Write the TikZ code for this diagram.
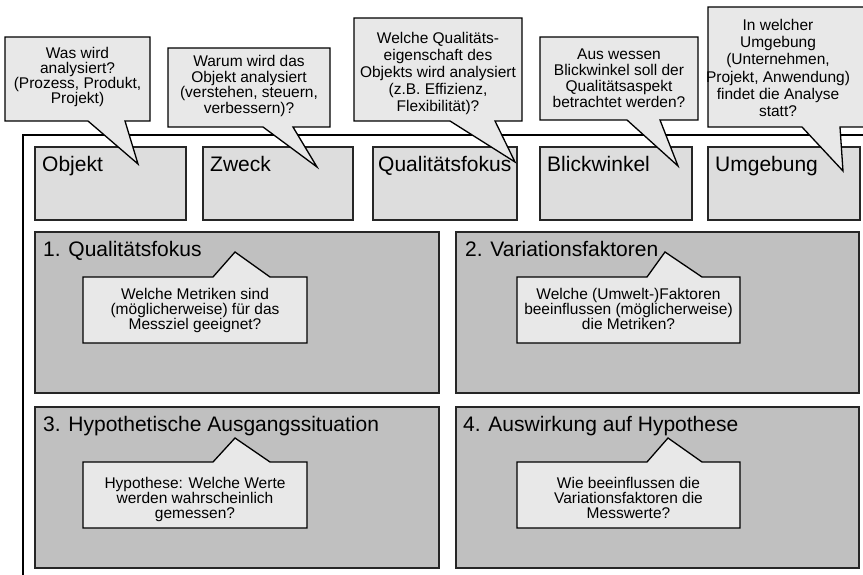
\documentclass[tikz,border=0pt]{standalone}
\usepackage{fontspec}
\setmainfont{Liberation Sans}
\definecolor{boxA}{HTML}{DDDDDD}
\definecolor{boxB}{HTML}{C0C0C0}
\definecolor{callc}{HTML}{E8E8E8}
\begin{document}
\begin{tikzpicture}[x=1pt,y=-1pt,
  topbox/.style={draw=black!85, line width=1.4pt, fill=boxA},
  bigbox/.style={draw=black!85, line width=1.4pt, fill=boxB},
  callshape/.style={draw=black, line width=1.3pt, fill=callc, line join=miter},
  calltext/.style={align=center, font=\fontsize{15.5}{#1}\selectfont, inner sep=0pt},
  calltext/.default=15,
  head/.style={anchor=base west, font=\fontsize{21}{24}\selectfont, inner sep=0pt}]
\useasboundingbox (0,0) rectangle (863,575);
\begin{scope}
\clip (0,0) rectangle (863,575);
% frame
\draw[line width=2.4pt] (23,578) -- (23,135) -- (870,135);
% top boxes
\draw[topbox] (35,147) rectangle (186,220);
\draw[topbox] (203,147) rectangle (353,220);
\draw[topbox] (373,147) rectangle (517,220);
\draw[topbox] (540,147) rectangle (692,220);
\draw[topbox] (708,147) rectangle (860,220);
\node[head] (hObj) at (42,172) {Objekt};
\node[head] (hZw) at (210,172) {Zweck};
\node[head] (hQu) at (378,172) {Qualitätsfokus};
\node[head] (hBl) at (547,172) {Blickwinkel};
\node[head] (hUm) at (715,172) {Umgebung};
% big boxes
\draw[bigbox] (35,232) rectangle (439,393);
\draw[bigbox] (456,232) rectangle (859,393);
\draw[bigbox] (35,407) rectangle (439,568);
\draw[bigbox] (456,407) rectangle (859,568);
\node[head] (h1) at (43,256) {1. Qualitätsfokus};
\node[head] (h2) at (465,256) {2. Variationsfaktoren};
\node[head] (h3) at (43,431) {3. Hypothetische Ausgangssituation};
\node[head] (h4) at (463,431) {4. Auswirkung auf Hypothese};
% top callouts
\draw[callshape] (5,37) -- (150,37) -- (150,121) -- (125,121) -- (138,164) -- (88,121) -- (5,121) -- cycle;
\draw[callshape] (168,48) -- (330,48) -- (330,127) -- (293,127) -- (317,167) -- (263,127) -- (168,127) -- cycle;
\draw[callshape] (354,18) -- (522,18) -- (522,121) -- (495,121) -- (515,162) -- (450,121) -- (354,121) -- cycle;
\draw[callshape] (540,37) -- (698,37) -- (698,120) -- (660,120) -- (678,166) -- (627,120) -- (540,120) -- cycle;
\draw[callshape] (708,7) -- (870,7) -- (870,127) -- (840,127) -- (843,171) -- (802,127) -- (708,127) -- cycle;
\node[calltext=14.7] (t1) at (77.5,77) {Was wird\\analysiert?\\(Prozess, Produkt,\\Projekt)};
\node[calltext=15.8] (t2) at (249,86) {Warum wird das\\Objekt analysiert\\(verstehen, steuern,\\verbessern)?};
\node[calltext=17.2] (t3) at (438,73.5) {Welche Qualitäts-\\eigenschaft des\\Objekts wird analysiert\\(z.B. Effizienz,\\Flexibilität)?};
\node[calltext=15.9] (t4) at (619,78.3) {Aus wessen\\Blickwinkel soll der\\Qualitätsaspekt\\betrachtet werden?};
\node[calltext=17.3] (t5) at (778,68) {In welcher\\Umgebung\\(Unternehmen,\\Projekt, Anwendung)\\findet die Analyse\\statt?};
% inner callouts
\draw[callshape] (83,277) -- (213,277) -- (235,252) -- (270,277) -- (307,277) -- (307,343) -- (83,343) -- cycle;
\draw[callshape] (517,277) -- (647,277) -- (665,252) -- (702,277) -- (740,277) -- (740,343) -- (517,343) -- cycle;
\draw[callshape] (83,462) -- (213,462) -- (235,438) -- (270,462) -- (307,462) -- (307,528) -- (83,528) -- cycle;
\draw[callshape] (517,462) -- (647,462) -- (668,438) -- (702,462) -- (740,462) -- (740,528) -- (517,528) -- cycle;
\node[calltext] (i1) at (195,310) {Welche Metriken sind\\(möglicherweise) für das\\Messziel geeignet?};
\node[calltext] (i2) at (628.5,308.5) {Welche (Umwelt-)Faktoren\\beeinflussen (möglicherweise)\\die Metriken?};
\node[calltext] (i3) at (195,499) {Hypothese: Welche Werte\\werden wahrscheinlich\\gemessen?};
\node[calltext] (i4) at (628.5,497.5) {Wie beeinflussen die\\Variationsfaktoren die\\Messwerte?};
\end{scope}
\end{tikzpicture}
\end{document}
